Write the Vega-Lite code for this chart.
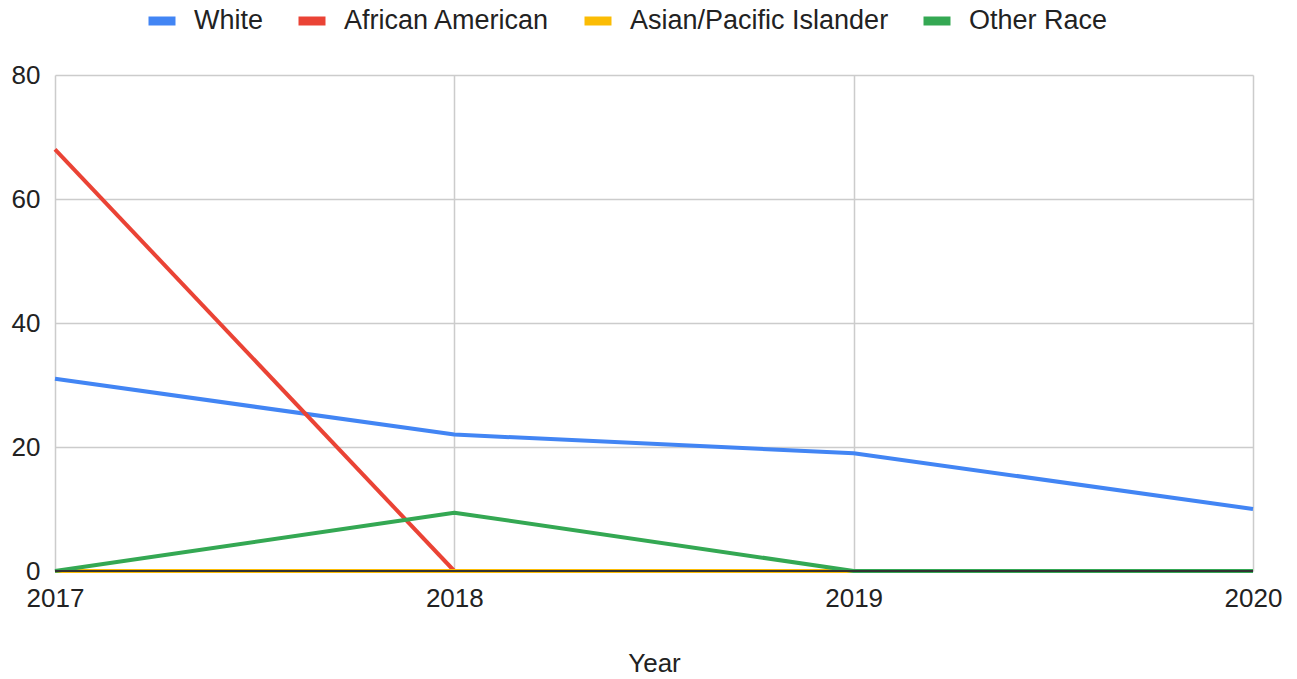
{
  "$schema": "https://vega.github.io/schema/vega-lite/v6.json",
  "width": 1198,
  "height": 496,
  "autosize": {"type": "none"},
  "padding": {"left": 55, "top": 75, "right": 44, "bottom": 108},
  "background": "white",
  "config": {
    "font": "Liberation Sans",
    "view": {"stroke": null}
  },
  "data": {
    "values": [
      {"Year": 2017, "Race": "White", "Value": 31},
      {"Year": 2018, "Race": "White", "Value": 22},
      {"Year": 2019, "Race": "White", "Value": 19},
      {"Year": 2020, "Race": "White", "Value": 10},
      {"Year": 2017, "Race": "African American", "Value": 68},
      {"Year": 2018, "Race": "African American", "Value": 0},
      {"Year": 2017, "Race": "Asian/Pacific Islander", "Value": 0},
      {"Year": 2018, "Race": "Asian/Pacific Islander", "Value": 0},
      {"Year": 2019, "Race": "Asian/Pacific Islander", "Value": 0},
      {"Year": 2017, "Race": "Other Race", "Value": 0},
      {"Year": 2018, "Race": "Other Race", "Value": 9.4},
      {"Year": 2019, "Race": "Other Race", "Value": 0},
      {"Year": 2020, "Race": "Other Race", "Value": 0}
    ]
  },
  "layer": [
    {
      "mark": {"type": "line", "strokeWidth": 4, "strokeJoin": "round", "clip": false},
      "encoding": {
        "x": {
          "field": "Year",
          "type": "quantitative",
          "scale": {"domain": [2017, 2020], "nice": false, "zero": false},
          "axis": {
            "values": [2017, 2018, 2019, 2020],
            "format": "d",
            "title": "Year",
            "titleFont": "Liberation Sans",
            "titleFontSize": 26,
            "titleFontWeight": "normal",
            "titleColor": "#222222",
            "titlePadding": 39,
            "labelFontSize": 26,
            "labelColor": "#222222",
            "labelPadding": 14,
            "labelFlush": false,
            "ticks": false,
            "domain": false,
            "grid": true,
            "gridColor": "#cccccc",
            "gridWidth": 1.5
          }
        },
        "y": {
          "field": "Value",
          "type": "quantitative",
          "scale": {"domain": [0, 80], "nice": false},
          "axis": {
            "values": [0, 20, 40, 60, 80],
            "title": null,
            "labelFontSize": 26,
            "labelColor": "#222222",
            "labelPadding": 15,
            "ticks": false,
            "domain": false,
            "grid": true,
            "gridColor": "#cccccc",
            "gridWidth": 1.5
          }
        },
        "color": {
          "field": "Race",
          "type": "nominal",
          "sort": ["White", "African American", "Asian/Pacific Islander", "Other Race"],
          "scale": {
            "domain": ["White", "African American", "Asian/Pacific Islander", "Other Race"],
            "range": ["#4285F4", "#EA4335", "#FBBC04", "#34A853"]
          },
          "legend": {
            "title": null,
            "orient": "none",
            "direction": "horizontal",
            "legendX": 89,
            "legendY": -72,
            "symbolType": "stroke",
            "symbolSize": 729,
            "symbolStrokeWidth": 9,
            "labelFontSize": 27,
            "labelColor": "#222222",
            "labelOffset": 14,
            "columnPadding": 16,
            "labelLimit": 400
          }
        }
      }
    },
    {
      "mark": {"type": "rule", "color": "#333333", "strokeWidth": 1.5},
      "encoding": {
        "y": {"datum": 0}
      }
    }
  ]
}
